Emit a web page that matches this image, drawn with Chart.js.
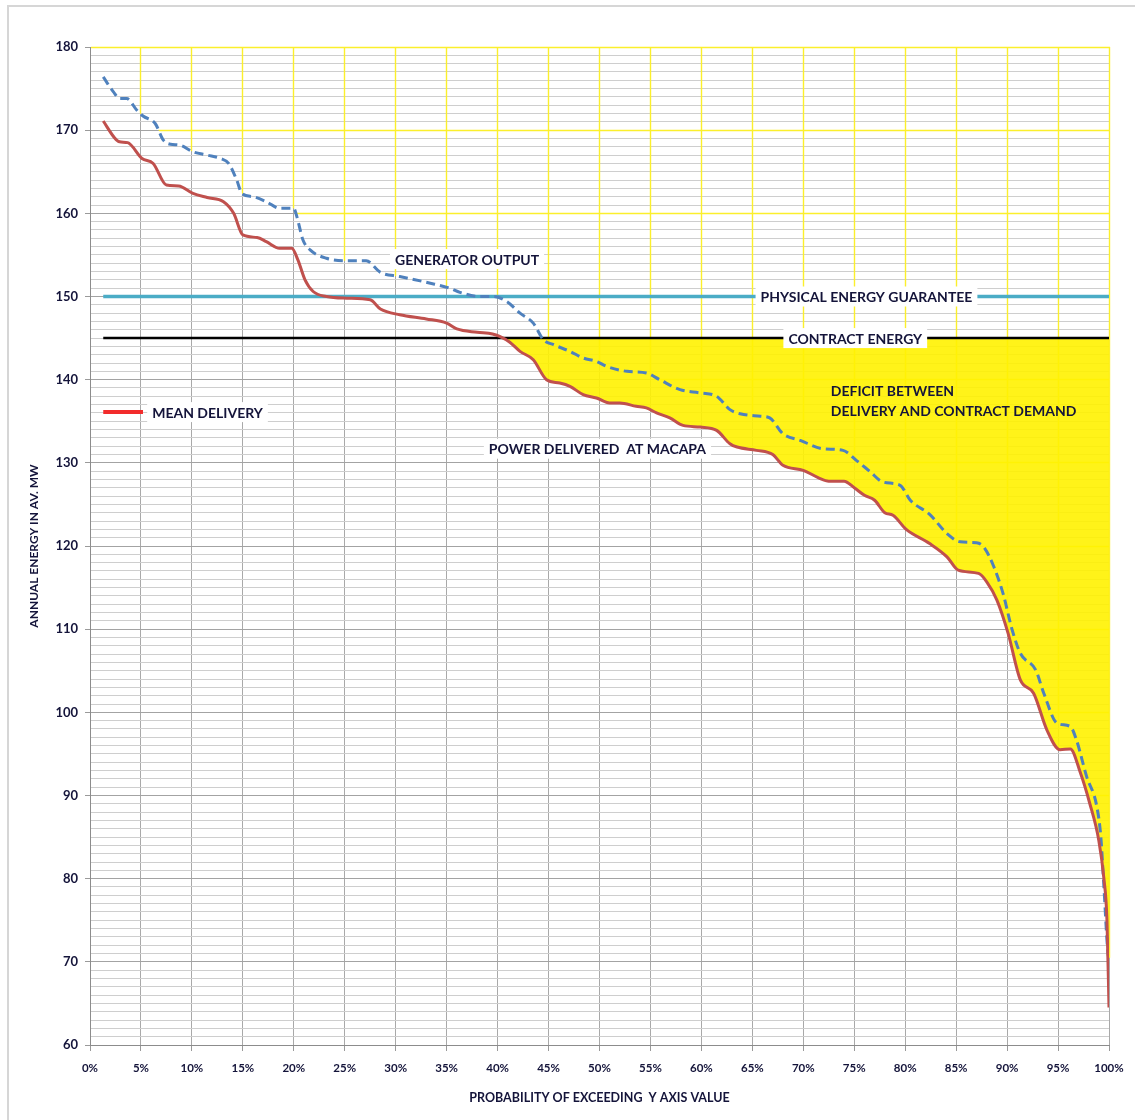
<!DOCTYPE html>
<html>
<head>
<meta charset="utf-8">
<script src="https://cdn.jsdelivr.net/npm/chart.js@4.4.1/dist/chart.umd.min.js"></script>
<style>
    html, body { margin: 0; padding: 0; background: #fff; }
    #wrap { position: relative; width: 1135px; height: 1120px; }
    #frame { position: absolute; left: 7px; top: 5px; right: 0; bottom: 0;
             border-left: 2px solid #d6d6d6; border-top: 2px solid #d6d6d6; }
    canvas { position: absolute; left: 0; top: 0; }
</style>
</head>
<body>
<div id="wrap">
    <div id="frame"></div>
    <canvas id="energyChart" width="1135" height="1120"></canvas>
</div>
<script>
// Exceedance curves — mean delivery vs generator output (AV. MW)

const deliveryProb = [1.3, 2.4, 2.9, 3.7, 5.1, 6.2, 7.5, 8.7, 10.1, 11.5, 13.1, 14.1, 15.0, 16.4, 17.3,
    18.6, 19.8, 20.4, 21.1, 21.9, 23.2, 25.2, 27.5, 28.5, 30.4, 33.0, 35.0, 36.0, 38.0, 39.5, 40.2,
    41.2, 42.2, 43.5, 44.8, 46.1, 47.1, 48.4, 49.7, 51.0, 52.0, 53.6, 54.6, 55.6, 56.9, 58.2, 59.9,
    61.5, 62.8, 63.5, 65.4, 67.0, 68.0, 70.0, 71.5, 72.5, 74.0, 75.0, 76.0, 77.0, 78.0, 78.8, 80.1,
    82.4, 84.1, 85.2, 87.2, 88.0, 89.0, 90.1, 91.3, 92.6, 93.9, 95.2, 96.2, 97.2, 98.1, 99.0, 99.5,
    99.8, 100];
const deliveryMW = [171.1, 169.1, 168.6, 168.5, 166.6, 166.0, 163.4, 163.3, 162.4, 161.9, 161.4, 160.0, 157.4, 157.1, 156.6,
    155.8, 155.8, 154.4, 152.0, 150.6, 150.0, 149.8, 149.6, 148.5, 147.8, 147.3, 146.8, 146.1, 145.7, 145.5, 145.2,
    144.5, 143.4, 142.4, 140.0, 139.6, 139.2, 138.2, 137.8, 137.2, 137.2, 136.8, 136.6, 136.0, 135.4, 134.5, 134.3,
    133.9, 132.3, 131.9, 131.5, 131.0, 129.7, 129.1, 128.2, 127.8, 127.8, 127.0, 126.1, 125.5, 124.0, 123.7, 122.0,
    120.3, 118.7, 117.1, 116.7, 115.7, 113.5, 109.5, 103.9, 102.3, 97.9, 95.5, 95.6, 92.7, 89.1, 84.6, 80.0,
    75.0, 64.5];

const generatorProb = [1.3, 2.3, 2.9, 3.6, 4.6, 5.2, 6.4, 7.2, 7.9, 8.8, 10.1, 11.5, 12.8, 13.6, 14.4,
    14.9, 16.0, 17.3, 18.6, 20.0, 20.3, 20.9, 21.6, 23.2, 25.2, 27.1, 28.5, 30.4, 33.4, 35.3, 36.3,
    38.3, 39.6, 40.9, 42.2, 43.5, 44.5, 45.5, 47.1, 48.4, 49.7, 50.7, 52.7, 54.6, 55.9, 57.9, 59.9,
    61.5, 62.8, 63.8, 65.8, 66.7, 68.0, 69.7, 71.9, 73.9, 75.2, 76.5, 77.8, 79.5, 80.5, 82.4, 84.1,
    85.4, 87.0, 87.7, 88.7, 89.6, 90.5, 91.3, 92.8, 93.6, 94.9, 96.2, 96.8, 97.8, 98.8, 99.2, 99.5,
    99.9, 100];
const generatorMW = [176.4, 174.6, 173.8, 173.8, 172.4, 171.7, 170.8, 168.8, 168.3, 168.2, 167.4, 167.0, 166.6, 166.0, 164.0,
    162.4, 162.0, 161.4, 160.6, 160.6, 159.6, 156.8, 155.6, 154.6, 154.3, 154.3, 152.9, 152.4, 151.6, 151.0, 150.5,
    150.0, 150.0, 149.4, 148.0, 146.8, 144.8, 144.2, 143.4, 142.6, 142.2, 141.6, 141.0, 140.8, 140.0, 138.8, 138.4,
    138.0, 136.4, 135.9, 135.6, 135.4, 133.5, 132.7, 131.7, 131.5, 130.3, 129.0, 127.7, 127.3, 125.5, 123.8, 121.5,
    120.5, 120.4, 119.9, 117.5, 114.3, 109.9, 107.1, 105.1, 102.3, 98.7, 98.3, 96.7, 92.3, 88.7, 85.0, 79.0,
    71.0, 70.5];

const physicalGuarantee = 150;
const contractEnergy = 145;
const refLineProb = [1.3, 100];

const xTicks = [0, 100, 5];     // min, max, step (%)
const yTicks = [60, 180, 10];   // min, max, labelled step

const FONT = 'Lato, "Open Sans", sans-serif';
const TEXT = '#14143a';
const YELLOW_GRID = '#fbef2c';

const toPts = (xs, ys) => xs.map((x, i) => ({ x, y: ys[i] }));
const flat = (xs, v) => xs.map(x => ({ x, y: v }));
const align = p => Math.round(p - 0.5) + 0.5;

// Excel-style: major gridlines show yellow above the generator curve
const upperGrid = {
    id: 'upperGrid',
    beforeDatasetsDraw(chart) {
        const { ctx, chartArea: a, scales: { x, y } } = chart;
        const line = chart.getDatasetMeta(1).dataset;
        if (!line) return;
        line.updateControlPoints(a, 'x');
        const pts = line.points;

        ctx.save();
        ctx.beginPath();
        line.path(ctx);
        ctx.lineTo(a.right + 4, pts[pts.length - 1].y);
        ctx.lineTo(a.right + 4, a.top - 4);
        ctx.lineTo(a.left + 1, a.top - 4);
        ctx.lineTo(a.left + 1, pts[0].y);
        ctx.closePath();
        ctx.clip();

        ctx.setLineDash([]);
        ctx.strokeStyle = YELLOW_GRID;
        ctx.lineWidth = 1.4;
        ctx.beginPath();
        for (let v = xTicks[0] + xTicks[2]; v <= xTicks[1]; v += xTicks[2]) {
            const px = align(x.getPixelForValue(v));
            ctx.moveTo(px, a.top);
            ctx.lineTo(px, a.bottom);
        }
        for (let v = yTicks[0] + yTicks[2]; v <= yTicks[1]; v += yTicks[2]) {
            const py = align(y.getPixelForValue(v));
            ctx.moveTo(a.left, py);
            ctx.lineTo(a.right + 1, py);
        }
        ctx.stroke();
        ctx.restore();
    },
};

// text labels placed in data coordinates
const notes = [
    { text: 'GENERATOR OUTPUT', x: 37.0, y: 154.5, align: 'center', box: true },
    { text: 'PHYSICAL ENERGY GUARANTEE', x: 76.2, y: physicalGuarantee, align: 'center', box: true },
    { text: 'CONTRACT ENERGY', x: 75.1, y: contractEnergy, align: 'center', box: true },
    { text: 'POWER DELIVERED  AT MACAPA', x: 49.8, y: 131.7, align: 'center', box: true },
    { text: 'DEFICIT BETWEEN', x: 72.7, y: 138.75, align: 'left', box: false },
    { text: 'DELIVERY AND CONTRACT DEMAND', x: 72.7, y: 136.35, align: 'left', box: false },
    { text: 'MEAN DELIVERY', x: 6.1, y: 136.1, align: 'left', box: true },
];
const legendSample = { from: 1.3, to: 5.2, y: 136.1 };

const noteLabels = {
    id: 'noteLabels',
    afterDatasetsDraw(chart) {
        const { ctx, scales: { x, y } } = chart;
        ctx.save();
        ctx.setLineDash([]);

        // legend line sample for mean delivery
        ctx.strokeStyle = '#f22b2b';
        ctx.lineWidth = 4;
        ctx.beginPath();
        ctx.moveTo(x.getPixelForValue(legendSample.from), y.getPixelForValue(legendSample.y));
        ctx.lineTo(x.getPixelForValue(legendSample.to), y.getPixelForValue(legendSample.y));
        ctx.stroke();

        ctx.font = `bold 14px ${FONT}`;
        ctx.textBaseline = 'middle';
        notes.forEach(n => {
            const px = x.getPixelForValue(n.x);
            const py = y.getPixelForValue(n.y);
            const w = ctx.measureText(n.text).width;
            const left = n.align === 'center' ? px - w / 2 : px;
            if (n.box) {
                ctx.fillStyle = '#fff';
                ctx.fillRect(left - 5, py - 10, w + 10, 20);
            }
            ctx.fillStyle = TEXT;
            ctx.textAlign = 'left';
            ctx.fillText(n.text, left, py + 1);
        });
        ctx.restore();
    },
};

const ctx = document.getElementById('energyChart').getContext('2d');

new Chart(ctx, {
    type: 'line',
    data: {
        datasets: [
            {
                label: 'MEAN DELIVERY',
                data: toPts(deliveryProb, deliveryMW),
                borderColor: '#c0504d',
                borderWidth: 3,
                cubicInterpolationMode: 'monotone',
                pointRadius: 0,
                fill: false,
                order: 0,
            },
            {
                label: 'GENERATOR OUTPUT',
                data: toPts(generatorProb, generatorMW),
                borderColor: '#4f81bd',
                borderWidth: 3,
                borderDash: [9, 5],
                cubicInterpolationMode: 'monotone',
                pointRadius: 0,
                fill: false,
                order: 1,
            },
            {
                label: 'PHYSICAL ENERGY GUARANTEE',
                data: flat(refLineProb, physicalGuarantee),
                borderColor: '#4bacc6',
                borderWidth: 3.5,
                pointRadius: 0,
                fill: false,
                order: 2,
            },
            {
                label: 'CONTRACT ENERGY',
                data: flat(refLineProb, contractEnergy),
                borderColor: '#000',
                borderWidth: 2.5,
                pointRadius: 0,
                fill: false,
                order: 2,
            },
            {
                label: 'DEFICIT',
                data: toPts(deliveryProb, deliveryMW),
                borderColor: 'rgba(0,0,0,0)',
                borderWidth: 0,
                cubicInterpolationMode: 'monotone',
                pointRadius: 0,
                fill: {
                    target: { value: contractEnergy },
                    above: 'rgba(0,0,0,0)',
                    below: 'rgba(255,242,0,0.9)',
                },
                order: 9,
            },
        ],
    },
    options: {
        responsive: false,
        animation: false,
        layout: { padding: { top: 47, right: 26, left: 0, bottom: 0 } },
        plugins: {
            legend: { display: false },
            tooltip: { enabled: false },
        },
        scales: {
            x: {
                type: 'linear',
                min: xTicks[0],
                max: xTicks[1],
                afterFit: s => { s.height = 75; },
                ticks: {
                    stepSize: xTicks[2],
                    autoSkip: false,
                    maxRotation: 0,
                    padding: 10,
                    color: TEXT,
                    font: { family: FONT, size: 11.5, weight: 'bold' },
                    callback: v => v + '%',
                },
                grid: { color: '#a9a9a9', tickColor: '#9a9a9a', tickLength: 6 },
                border: { color: '#8c8c8c' },
                title: {
                    display: true,
                    text: 'PROBABILITY OF EXCEEDING  Y AXIS VALUE',
                    color: TEXT,
                    font: { family: FONT, size: 12.5, weight: 'bold' },
                    padding: { top: 0, bottom: 15 },
                },
            },
            y: {
                min: yTicks[0],
                max: yTicks[1],
                afterFit: s => { s.width = 90; },
                ticks: {
                    stepSize: 1,
                    autoSkip: false,
                    padding: 7,
                    color: TEXT,
                    font: { family: FONT, size: 13, weight: 'bold' },
                    callback: v => (v % yTicks[2] === 0 ? v : ''),
                },
                grid: {
                    color: c => (c.tick && c.tick.value % yTicks[2] === 0 ? '#a3a3a3' : '#cecece'),
                    tickColor: c => (c.tick && c.tick.value % yTicks[2] === 0 ? '#9a9a9a' : 'rgba(0,0,0,0)'),
                    tickLength: 5,
                },
                border: { color: '#8c8c8c' },
                title: {
                    display: true,
                    text: 'ANNUAL ENERGY IN AV. MW',
                    color: TEXT,
                    font: { family: FONT, size: 12, weight: 'bold' },
                    padding: { top: 27, bottom: 0 },
                },
            },
        },
    },
    plugins: [upperGrid, noteLabels],
});
</script>
</body>
</html>
